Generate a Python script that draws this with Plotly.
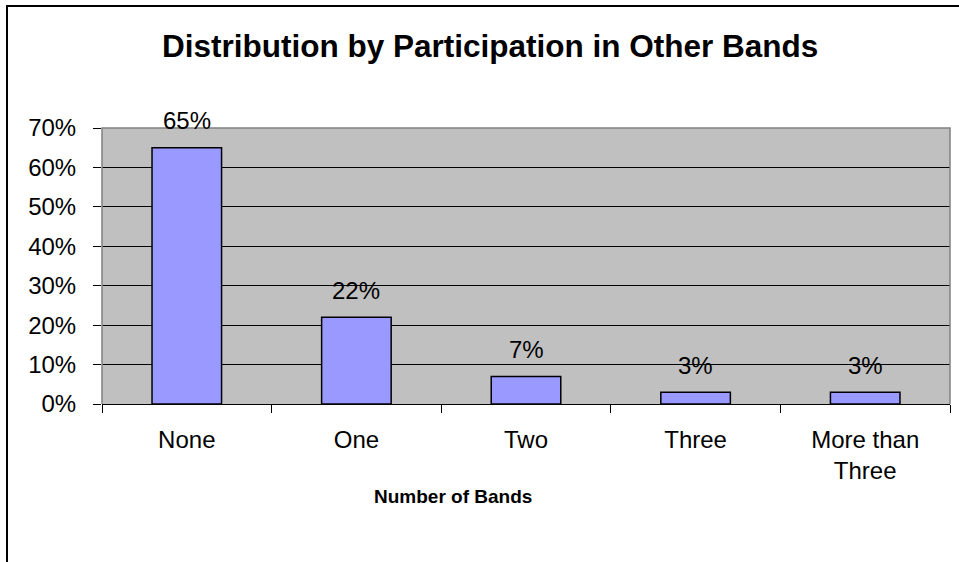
import plotly.graph_objects as go

categories = ["None", "One", "Two", "Three", "More than<br>Three"]
values = [0.65, 0.22, 0.07, 0.03, 0.03]
labels = ["65%", "22%", "7%", "3%", "3%"]
y_ticks = [0, 0.1, 0.2, 0.3, 0.4, 0.5, 0.6, 0.7]
y_tick_text = ["0%", "10%", "20%", "30%", "40%", "50%", "60%", "70%"]

W, H = 959, 562
L, R, T, B = 102, 9, 128, 158
pw, ph = W - L - R, H - T - B

def px_x(x):
    return (x - L) / pw

def px_y(y):
    return (H - B - y) / ph

FONT = "Liberation Sans, Arial, sans-serif"

fig = go.Figure()
fig.add_trace(go.Bar(
    x=categories, y=values, width=0.41,
    marker=dict(color="#9999FF", line=dict(color="black", width=1.5)),
    hoverinfo="skip",
))

for c, v, t in zip(categories, values, labels):
    fig.add_annotation(x=c, y=v, text=t, showarrow=False, yanchor="middle",
                       yshift=27, font=dict(size=24, color="black", family=FONT))

fig.add_annotation(xref="paper", yref="paper", x=px_x(490), y=px_y(46),
                   text="<b>Distribution by Participation in Other Bands</b>",
                   showarrow=False, xanchor="center", yanchor="middle",
                   font=dict(size=31.5, color="black", family=FONT))
fig.add_annotation(xref="paper", yref="paper", x=px_x(453), y=px_y(496),
                   text="<b>Number of Bands</b>",
                   showarrow=False, xanchor="center", yanchor="middle",
                   font=dict(size=19, color="black", family=FONT))

# plot-area border (gray) on left/top/right
fig.add_shape(type="path", xref="paper", yref="paper",
              path="M 0,0 L 0,1 L 1,1 L 1,0", line=dict(color="#808080", width=1.5))
# figure frame
fig.add_shape(type="rect", xref="paper", yref="paper",
              x0=px_x(7), y0=px_y(570), x1=px_x(970), y1=px_y(6),
              line=dict(color="black", width=2))

fig.update_layout(
    width=W, height=H,
    margin=dict(l=L, r=R, t=T, b=B),
    paper_bgcolor="white", plot_bgcolor="#C0C0C0",
    showlegend=False,
    font=dict(family=FONT, size=24, color="black"),
    bargap=0.59,
)
fig.update_xaxes(
    type="category", showline=True, linecolor="black", linewidth=1,
    ticks="outside", tickson="boundaries", ticklen=8, tickcolor="black",
    showgrid=False, tickfont=dict(size=24), ticklabelstandoff=14,
)
fig.update_yaxes(
    range=[0, 0.7], tickvals=y_ticks, ticktext=y_tick_text,
    showgrid=True, gridcolor="black", gridwidth=1, zeroline=False,
    ticks="outside", ticklen=8, tickcolor="black", showline=False,
    tickfont=dict(size=24), ticklabelstandoff=12,
)

fig.write_html("out.html")
